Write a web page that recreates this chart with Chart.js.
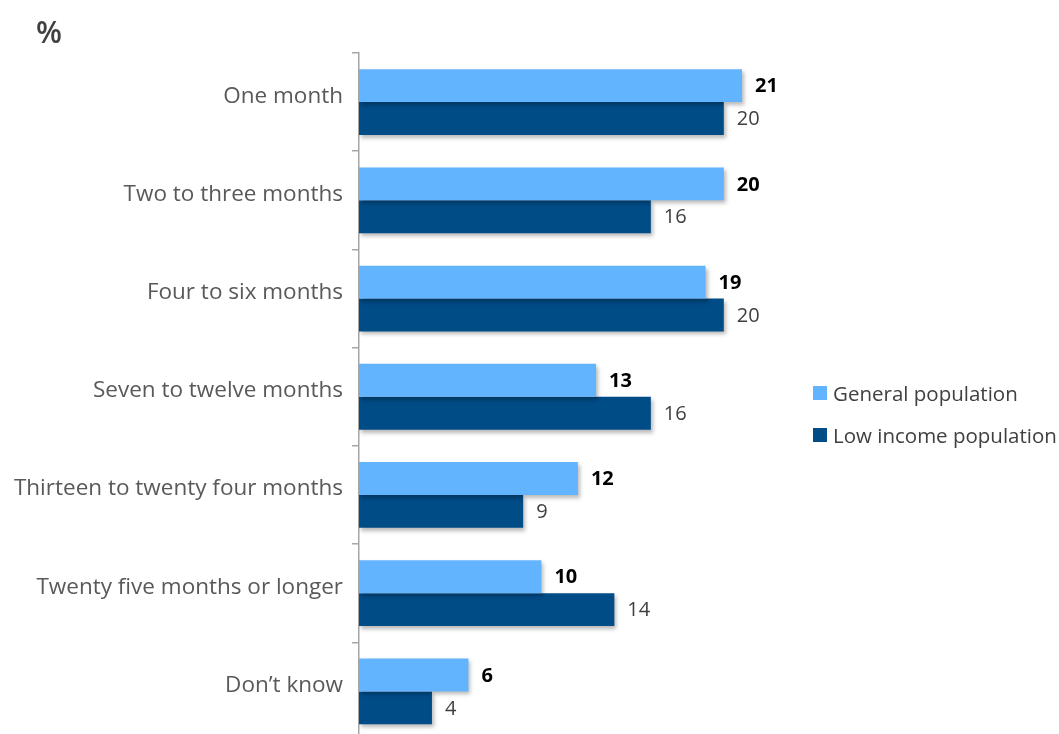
<!DOCTYPE html>
<html>
<head>
<meta charset="utf-8">
<script src="https://cdn.jsdelivr.net/npm/chart.js@4"></script>
<style>
  html, body { margin: 0; padding: 0; background: #fff; overflow: hidden; }
  #wrap { position: relative; width: 1059px; height: 734px; overflow: hidden; }
  #unit { position: absolute; left: 36px; top: 11px; font: 600 30px "Open Sans", sans-serif; color: #404040; }
  #legend { position: absolute; left: 813px; top: 372px; font: 20.5px "Open Sans", sans-serif; color: #404040; }
  #legend div { display: flex; align-items: center; height: 42px; white-space: nowrap; }
  #legend span.sw { display: inline-block; width: 14px; height: 14px; margin-right: 6px; }
</style>
</head>
<body>
<div id="wrap">
  <div id="unit">%</div>
  <canvas id="chart" width="1059" height="763"></canvas>
  <div id="legend"></div>
</div>
<script>
// ─── Data ─────────────────────────────────────────────────────────────────────
const categories = [
  "One month",
  "Two to three months",
  "Four to six months",
  "Seven to twelve months",
  "Thirteen to twenty four months",
  "Twenty five months or longer",
  "Don\u2019t know"
];
const generalPopulation = [21, 20, 19, 13, 12, 10, 6];
const lowIncomePopulation = [20, 16, 20, 16, 9, 14, 4];
const seriesNames = ["General population", "Low income population"];
const seriesColors = ["#63b4ff", "#004c87"];

// soft drop shadow under the bars
const barShadow = {
  id: "barShadow",
  beforeDatasetsDraw(chart) {
    const c = chart.ctx;
    c.save();
    c.shadowColor = "rgba(0,0,0,0.28)";
    c.shadowBlur = 4;
    c.shadowOffsetX = 2;
    c.shadowOffsetY = 3;
  },
  afterDatasetsDraw(chart) { chart.ctx.restore(); }
};

// numbers printed at the end of every bar
const valueLabels = {
  id: "valueLabels",
  afterDatasetsDraw(chart) {
    const c = chart.ctx;
    c.save();
    c.textBaseline = "middle";
    c.textAlign = "left";
    chart.data.datasets.forEach((ds, i) => {
      const meta = chart.getDatasetMeta(i);
      c.font = i === 0 ? "bold 20px 'Open Sans', sans-serif" : "20px 'Open Sans', sans-serif";
      c.fillStyle = i === 0 ? "#000000" : "#404040";
      meta.data.forEach((bar, j) => {
        c.fillText(String(ds.data[j]), bar.x + 13, bar.y + 1);
      });
    });
    c.restore();
  }
};

const chart = new Chart(document.getElementById("chart"), {
  type: "bar",
  data: {
    labels: categories,
    datasets: [
      { label: seriesNames[0], data: generalPopulation, backgroundColor: seriesColors[0] },
      { label: seriesNames[1], data: lowIncomePopulation, backgroundColor: seriesColors[1] }
    ]
  },
  options: {
    indexAxis: "y",
    responsive: false,
    animation: false,
    barPercentage: 1,
    categoryPercentage: 0.67,
    layout: { padding: { top: 53, right: 244, bottom: 5, left: 0 } },
    plugins: { legend: { display: false }, tooltip: { enabled: false } },
    scales: {
      x: { display: false, min: 0, max: 25 },
      y: {
        afterFit: s => { s.width = 359; },
        border: { color: "#a6a6a6", width: 1.5 },
        grid: { drawOnChartArea: false, offset: true, tickLength: 7, color: "#a6a6a6", lineWidth: 1.5 },
        ticks: { color: "#595959", padding: 9, labelOffset: -6, font: { family: "Open Sans", size: 22.5 } }
      }
    }
  },
  plugins: [barShadow, valueLabels]
});

// legend built from the dataset names
const legend = document.getElementById("legend");
chart.data.datasets.forEach(ds => {
  const row = document.createElement("div");
  row.innerHTML = '<span class="sw" style="background:' + ds.backgroundColor + '"></span>' + ds.label;
  legend.appendChild(row);
});
</script>
</body>
</html>
